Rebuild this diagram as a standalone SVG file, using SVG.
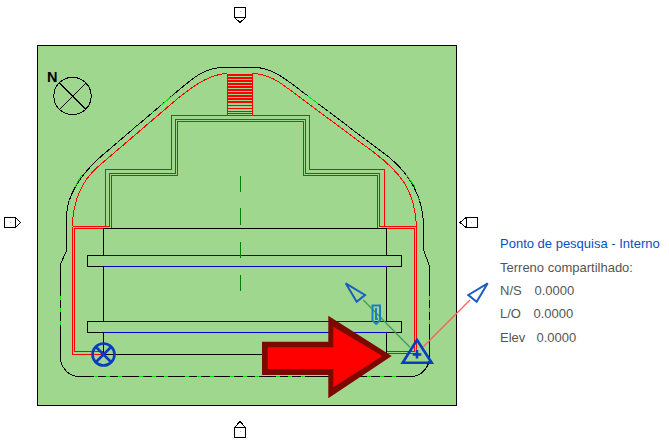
<svg xmlns="http://www.w3.org/2000/svg" width="669" height="446" viewBox="0 0 669 446">
<style>
path,rect,circle,polygon{shape-rendering:crispEdges}
.aa{shape-rendering:auto}
.o{fill:none;stroke:#000;stroke-width:1}
.r{fill:none;stroke:#f00;stroke-width:1}
.b{fill:none;stroke:#0000d0;stroke-width:1}
.g{fill:none;stroke:#00e800;stroke-width:1}
.mk{fill:#fff;stroke:#000;stroke-width:1}
.sv{fill:none;stroke:#0a3cc0;stroke-width:2.6;shape-rendering:auto}
.ar{fill:none;stroke:#1a5cc0;stroke-width:2;shape-rendering:auto}
.dot{fill:#bbb}
text{font-family:"Liberation Sans",Arial,sans-serif;font-size:13px;fill:#555}
</style>
<rect width="669" height="446" fill="#fff"/>
<rect id="site" x="37.5" y="45.5" width="419" height="360" fill="#a0d78f" stroke="#000" stroke-width="1"/>
<g id="north">
<circle cx="72.5" cy="96" r="18.7" fill="none" stroke="#000" stroke-width="1"/>
<path d="M59.5 83L86 109.5M86 83L59.5 109.5" fill="none" stroke="#000" stroke-width="1"/>
<text x="47" y="81.5" style="font-size:14.5px;font-weight:bold;fill:#000">N</text>
</g>
<g id="connectors">
<path class="o" d="M222.7 67.5C205 68 195 76 173 95L100 157.3C85 171 68 190 66.5 215V250.7L60.5 264V357.3C60.5 367 68 376 78.3 376.5H411.7C421 376 429.5 368 429.5 356.7V266L423.5 250V223C422 195 408 173 390 158L306.7 95C290 83 275 68 255 67.5Z"/>
<path class="g" d="M93.5 376.5h4M106 376.5h4M118 376.5h4M139 376.5h4M152 376.5h4M164 376.5h4M185 376.5h4M197 376.5h4M210 376.5h4M230 376.5h4M243 376.5h4M255 376.5h4M276 376.5h4M288 376.5h4M301 376.5h4M367 376.5h4M380 376.5h4M392 376.5h4M60.5 296v4M60.5 308v4M60.5 321v4M429.5 296v4M429.5 308v4M429.5 320v4M171.7 96.3L161.7 104.8M153.3 111.8L152 113M136.7 126.2L135 127.6M118.3 141.8L116.7 143.2M81.7 174.8L75 186.7M70 200L69 202M308.3 96.3L318.3 103.8M328.3 111.5L330 113M346.7 125L348 126M355 130.7L356 132M365 139L366 140M406.7 175L415 186.7M418.3 198.3L419.5 201"/>
<path class="r" d="M227.5 73.5C212 74 198 82 176.7 99.3L98 166.7C85 178 73 195 72.5 226.5M252.5 73.5C270 74 282 84 290 90L373 151.7C400 172 415 190 416.5 226.5"/>
<path class="r" d="M72.5 226.5H109.5V173.5H175.5V119.5H305.5V173.5H379.5V226.5H416.5V353.5H386.5M74.5 351.5V228.5H111.5V175.5H177.5V121.5H303.5V175.5H377.5V228.5H414.5V351.5H386.5M72.5 226.5V354.5H103.5M74.5 351.5H103.5"/>
<path class="r" d="M105.5 226.5V169.5H171.5V115.5H309.5V169.5H384.5V226.5"/>
<path class="r" d="M227.5 73.5V115.5M252.5 73.5V115.5M227.5 105.5H252.5M227.5 108.5H252.5M227.5 111.5H252.5M227.5 113.5H252.5"/>
<path d="M227.5 75H252.5M227.5 78H252.5M227.5 81H252.5M227.5 84H252.5M227.5 87H252.5M227.5 90H252.5M227.5 93H252.5M227.5 96H252.5M227.5 99H252.5M227.5 102H252.5" fill="none" stroke="#f00" stroke-width="2"/>
<path class="o" d="M103.5 266.5V321.5M103.5 332.5V354.5M386.5 266.5V321.5M386.5 332.5V354.5M103.5 255.5V228.5H386.5V255.5M103.5 354.5H386.5"/>
<path class="o" d="M103.5 255.5H87.5V266.5H103.5M103.5 321.5H87.5V332.5H103.5M386.5 255.5H401.5V266.5H386.5M386.5 321.5H401.5V332.5H386.5"/>
<path class="b" d="M103.5 255.5H386.5M103.5 266.5H386.5M103.5 321.5H386.5M103.5 332.5H386.5"/>
<path d="M240.5 176V192M240.5 208V224.7M240.5 242V257.7M240.5 275V290.7" fill="none" stroke="#008000" stroke-width="1"/>
<path class="aa" d="M363.3 300L410 347.3" fill="none" stroke="#3a9f5a" stroke-width="1.3"/>
<path class="aa" d="M423.3 346.7L470 300" fill="none" stroke="#ff6060" stroke-width="1.3"/>
</g>
<g id="project-base">
<circle class="sv" cx="103.5" cy="354.5" r="11"/>
<path class="sv" d="M95.5 346.5L111.5 362.5M111.5 346.5L95.5 362.5"/>
</g>
<g id="survey-point">
<path class="sv" d="M417 340L402.7 362.7H431.7Z"/>
<path class="sv" d="M417 350V358.5M412.7 354.5H421.3"/>
</g>
<g id="north-arrow"><path class="ar" d="M345.7 283.3L365 295L356.7 301.7Z"/></g>
<g id="east-arrow"><path class="ar" d="M487.7 283.3L468.3 295L476.7 301.7Z"/></g>
<g id="clip"><path class="aa" d="M372.5 305.5H380V320.5L376.2 324L372.5 320.5ZM376 308V319H378" fill="none" stroke="#1a80c0" stroke-width="2"/></g>
<g id="big-arrow">
<polygon class="aa" points="262,341.7 328.3,341.7 328.3,315.7 391.7,356 328.3,398.3 328.3,375 262,375" fill="#7a0a00"/>
<polygon class="aa" points="267.7,347.3 333.3,347.3 333.3,326.7 382.3,356 333.3,387.3 333.3,369 267.7,369" fill="#f00"/>
</g>
<g id="marker-top"><path class="mk" d="M234.5 7.5H245.5V17.5L240 22.5L234.5 17.5Z"/><path d="M234.5 17.5H245.5" stroke="#000" stroke-width="1"/><rect class="dot" x="240" y="11" width="1" height="1"/></g>
<g id="marker-bottom"><path class="mk" d="M234.5 437.5H245.5V427.5L240 421.5L234.5 427.5Z"/><path d="M234.5 427.5H245.5" stroke="#000" stroke-width="1"/><rect class="dot" x="240" y="431" width="1" height="1"/></g>
<g id="marker-left"><path class="mk" d="M4.5 217.5H15.5L20.7 222.5L15.5 227.5H4.5Z"/><path d="M15.5 217.5V227.5" stroke="#000" stroke-width="1"/><rect class="dot" x="10" y="222" width="1" height="1"/></g>
<g id="marker-right"><path class="mk" d="M477.5 217.5H466L460 222.5L466 227.5H477.5Z"/><path d="M466 217.5V227.5" stroke="#000" stroke-width="1"/><rect class="dot" x="471" y="222" width="1" height="1"/></g>
<g id="label">
<text x="500" y="248" style="fill:#0a4fc0">Ponto de pesquisa - Interno</text>
<text x="500" y="271.5">Terreno compartilhado:</text>
<text x="500" y="295">N/S</text><text x="534.5" y="295">0.0000</text>
<text x="500" y="318">L/O</text><text x="533.5" y="318">0.0000</text>
<text x="500" y="342">Elev</text><text x="536.5" y="342">0.0000</text>
</g>
</svg>
